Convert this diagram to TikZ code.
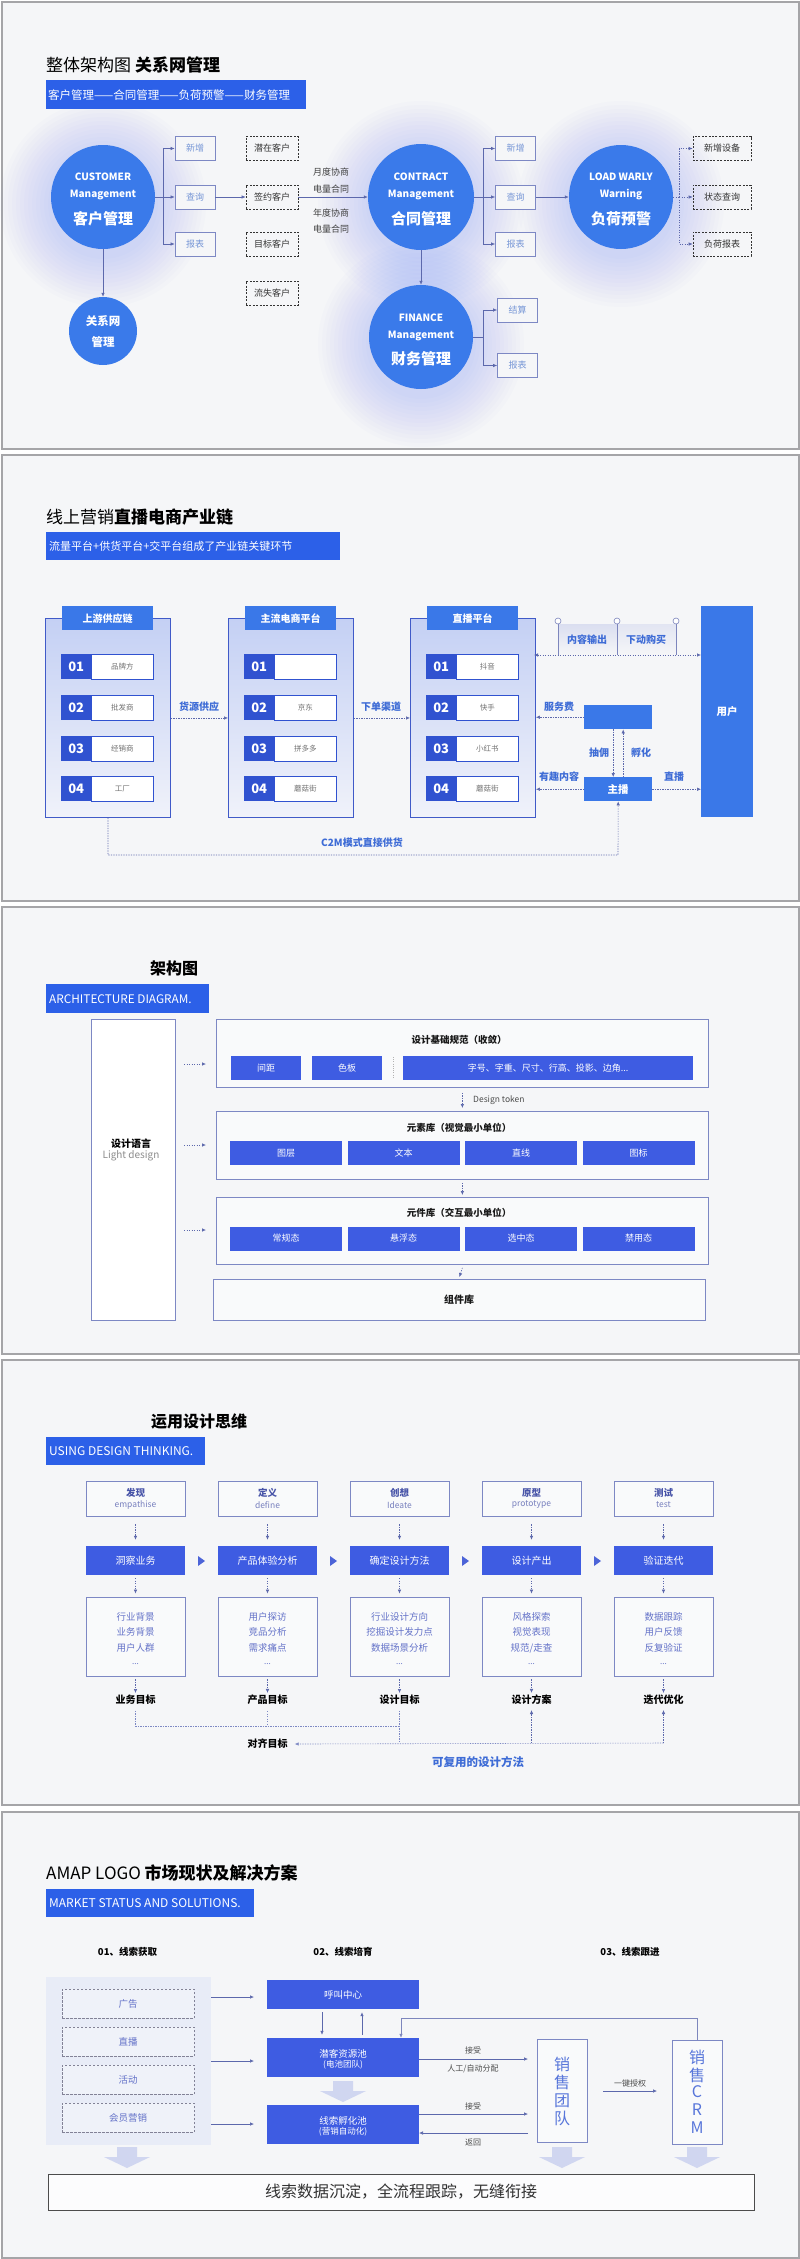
\documentclass[tikz,border=0pt]{standalone}
\usepackage{fontspec}
\setmainfont{Noto Sans CJK SC}
\usetikzlibrary{arrows.meta,calc}
\newcommand{\fsz}[1]{\fontsize{#1pt}{#1pt}\selectfont}
\definecolor{bg}{RGB}{245,246,248}
\definecolor{frame}{RGB}{165,165,168}
\definecolor{cblue}{RGB}{58,122,234}
\definecolor{banblue}{RGB}{44,96,232}
\definecolor{hblue}{RGB}{58,120,232}
\definecolor{nblue}{RGB}{48,82,208}
\definecolor{rblue}{RGB}{62,92,226}
\definecolor{lineb}{RGB}{92,104,172}
\definecolor{boxline}{RGB}{125,136,196}
\definecolor{softtxt}{RGB}{118,150,214}
\definecolor{lblblue}{RGB}{62,108,214}
\definecolor{glowc}{RGB}{95,125,245}
\definecolor{colTop}{RGB}{196,208,244}
\definecolor{colBot}{RGB}{240,242,250}
\definecolor{colLine}{RGB}{64,90,200}
\definecolor{ttlpurple}{RGB}{72,84,168}
\definecolor{subpurple}{RGB}{120,128,190}
\definecolor{contxt}{RGB}{100,114,200}
\definecolor{fatc}{RGB}{208,214,240}
\definecolor{srcbg}{RGB}{232,236,247}
\definecolor{dashgray}{RGB}{130,130,150}
\definecolor{salestxt}{RGB}{88,118,218}
\definecolor{pinA}{RGB}{218,222,240}
\definecolor{trib}{RGB}{76,100,216}
\tikzset{
 tx/.style={inner sep=0pt},
 ttl/.style={tx, anchor=west, font=\fsz{17}, text=black},
 banner/.style={fill=banblue, anchor=north west, inner sep=0pt},
 bantxt/.style={tx, anchor=west, text=white, font=\fsz{10.5}},
 arr/.style={draw=lineb, line width=0.6pt, -{Latex[length=4pt,width=3.5pt]}},
 ln/.style={draw=lineb, line width=0.6pt},
 dotarr/.style={arr, dash pattern=on 1.2pt off 1.3pt},
 dotln/.style={ln, dash pattern=on 1.2pt off 1.3pt},
 crc/.style={circle, fill=cblue, inner sep=0pt},
 ctA/.style={tx, text=white, font=\bfseries\fsz{10}},
 ctB/.style={tx, text=white, font=\bfseries\fsz{15}},
 ctC/.style={tx, text=white, font=\bfseries\fsz{11.5}},
 sbox/.style={draw=boxline, fill=bg, line width=0.7pt, text=softtxt, font=\fsz{9}, inner sep=0pt, minimum width=40pt, minimum height=24pt},
 dbox/.style={draw=black!80, dash pattern=on 2pt off 1.4pt, line width=0.7pt, text=black!80, font=\fsz{9}, inner sep=0pt, minimum width=52pt, minimum height=24pt},
 small/.style={tx, font=\fsz{9}, text=black!75},
 numbox/.style={fill=nblue, text=white, font=\bfseries\fsz{13}, minimum width=30pt, minimum height=25pt, anchor=north west, inner sep=0pt},
 labbox/.style={fill=white, draw=nblue, line width=0.9pt, text=black!55, font=\fsz{7.5}, minimum width=62pt, minimum height=25pt, anchor=north west, inner sep=0pt},
 blbl/.style={tx, text=lblblue, font=\bfseries\fsz{10}},
 abox/.style={draw=boxline, fill=white!40!bg, line width=0.8pt, anchor=north west, minimum width=492pt, inner sep=0pt},
 btn/.style={fill=rblue, text=white, font=\fsz{9}, minimum height=24pt, inner sep=0pt},
 atitle/.style={tx, font=\bfseries\fsz{9.5}, text=black!90},
 pbox/.style={draw=boxline, fill=white!40!bg, line width=0.8pt, minimum width=99pt, inner sep=0pt},
 ctxt/.style={tx, font=\fsz{9.5}, text=contxt},
 goal/.style={tx, font=\bfseries\fsz{10}, text=black},
 ddash/.style={draw=dashgray, dash pattern=on 2.5pt off 1.5pt, line width=0.8pt, fill=white!30!srcbg, minimum width=132pt, minimum height=29pt, text=contxt, font=\fsz{9.5}, inner sep=0pt},
 tiny/.style={tx, font=\fsz{8}, text=black!70},
}
\newcommand{\pcol}[7]{%
  \node[draw=colLine, line width=0.9pt, top color=colTop, bottom color=colBot, minimum width=125pt, minimum height=199pt, anchor=north west, inner sep=0pt] (#1) at (#2,618) {};
  \node[fill=hblue, text=white, font=\bfseries\fsz{10}, minimum width=91pt, minimum height=24pt, anchor=north west, inner sep=0pt] (#1h) at (#2+17,606) {#3};
  \foreach \yy/\num/\lab [count=\i] in {654/01/#4,695/02/#5,736/03/#6,776/04/#7}{
    \node[numbox] (#1n\i) at (#2+16,\yy) {\num};
    \node[labbox] (#1l\i) at (#2+46,\yy) {\lab};
  }
}
\newcommand{\fatarrow}[2]{\fill[fatc] (#1-10,#2) -- (#1+10,#2) -- (#1+10,#2+10) -- (#1+23,#2+10) -- (#1,#2+21) -- (#1-23,#2+10) -- (#1-10,#2+10) -- cycle;}
\begin{document}
\begin{tikzpicture}[x=1pt,y=-1pt]
\useasboundingbox (0,0) rectangle (800,2259);
\fill[white] (0,0) rectangle (800,2259);
\foreach \a/\b in {0/450,453/902,905/1355,1358/1806,1810/2259}
  \draw[frame, line width=2pt, fill=bg] (1.5,\a+1.5) rectangle (798.5,\b-1.5);

%% ===== Panel 1 =====
\node[ttl] (t1) at (46,65) {整体架构图 \textbf{关系网管理}};
\node[banner, minimum width=260pt, minimum height=29pt] (b1) at (46,80) {};
\node[bantxt, font=\fsz{11.5}] (b1t) at ([xshift=2pt]b1.west) {客户管理——合同管理——负荷预警——财务管理};
\foreach \cx/\cy in {103/197,421/197,621/197,421/337}
  \foreach \r in {55,59,...,103}
    \fill[glowc, opacity=0.018] (\cx,\cy+7) circle[radius=\r pt];
\node[crc, minimum size=104pt] (cust) at (103,197) {};
\node[ctA] (cust1) at (103,177) {CUSTOMER};
\node[ctA] (cust2) at (103,195) {Management};
\node[ctB] (cust3) at (103,219) {客户管理};
\node[crc, minimum size=68pt] (rel) at (103,331) {};
\node[ctC] (rel1) at (103,321) {关系网};
\node[ctC] (rel2) at (103,342) {管理};
\draw[arr] (cust) -- (rel);

\node[sbox] (cnew) at (195,148.5) {新增};
\node[sbox] (cq) at (195,197) {查询};
\node[sbox] (crep) at (195,244) {报表};
\coordinate (cj) at (163,197);
\draw[ln] (cust.east) -- (cj);
\draw[arr] (cj) |- (cnew.west);
\draw[arr] (cj) -- (cq.west);
\draw[arr] (cj) |- (crep.west);

\node[dbox] (d1) at (272,148.5) {潜在客户};
\node[dbox] (d2) at (272,197) {签约客户};
\node[dbox] (d3) at (272,244) {目标客户};
\node[dbox] (d4) at (272,293) {流失客户};
\draw[arr] (cq) -- (d2);

\node[crc, minimum size=106pt] (contr) at (421,197) {};
\node[ctA] (contr1) at (421,177) {CONTRACT};
\node[ctA] (contr2) at (421,195) {Management};
\node[ctB] (contr3) at (421,219) {合同管理};
\draw[arr] (d2) -- (contr);
\node[small] (m1) at (331,172) {月度协商};
\node[small] (m2) at (331,189) {电量合同};
\node[small] (m3) at (331,213) {年度协商};
\node[small] (m4) at (331,229) {电量合同};

\node[sbox] (knew) at (515.5,148.5) {新增};
\node[sbox] (kq) at (515.5,197) {查询};
\node[sbox] (krep) at (515.5,244) {报表};
\coordinate (kj) at (483,197);
\draw[ln] (contr.east) -- (kj);
\draw[arr] (kj) |- (knew.west);
\draw[arr] (kj) -- (kq.west);
\draw[arr] (kj) |- (krep.west);

\node[crc, minimum size=104pt] (load) at (621,197) {};
\node[ctA] (load1) at (621,177) {LOAD WARLY};
\node[ctA] (load2) at (621,195) {Warning};
\node[ctB] (load3) at (621,219) {负荷预警};
\draw[arr] (kq) -- (load);
\node[dbox, minimum width=58pt] (l1) at (722,148.5) {新增设备};
\node[dbox, minimum width=58pt] (l2) at (722,197) {状态查询};
\node[dbox, minimum width=58pt] (l3) at (722,244) {负荷报表};
\coordinate (lj) at (679,197);
\draw[dotln] (load.east) -- (lj);
\draw[dotarr] (lj) |- (l1.west);
\draw[dotarr] (lj) -- (l2.west);
\draw[dotarr] (lj) |- (l3.west);

\node[crc, minimum size=104pt] (fin) at (421,337) {};
\node[ctA] (fin1) at (421,318) {FINANCE};
\node[ctA] (fin2) at (421,336) {Management};
\node[ctB] (fin3) at (421,359) {财务管理};
\draw[arr] (contr) -- (fin);
\node[sbox] (fset) at (517.5,310) {结算};
\node[sbox] (frep) at (517.5,365.5) {报表};
\coordinate (fj) at (483,337);
\draw[ln] (fin.east) -- (fj);
\draw[arr] (fj) |- (fset.west);
\draw[arr] (fj) |- (frep.west);

%% ===== Panel 2 =====
\node[ttl] (t2) at (46,517) {线上营销\textbf{直播电商产业链}};
\node[banner, minimum width=294pt, minimum height=28pt] (b2) at (46,532) {};
\node[bantxt, font=\fsz{11}] (b2t) at ([xshift=3pt]b2.west) {流量平台+供货平台+交平台组成了产业链关键环节};
\pcol{up}{45}{上游供应链}{品牌方}{批发商}{经销商}{工厂}
\pcol{mid}{228}{主流电商平台}{}{京东}{拼多多}{蘑菇街}
\pcol{live}{410}{直播平台}{抖音}{快手}{小红书}{蘑菇街}
\draw[dotarr] (up) -- (mid);
\node[blbl] (g1) at (199,707) {货源供应};
\draw[dotarr] (mid) -- (live);
\node[blbl] (g2) at (381,707) {下单渠道};

\node[fill=hblue, text=white, font=\bfseries\fsz{10.5}, minimum width=52pt, minimum height=211pt, anchor=north west, inner sep=0pt] (user) at (701,606) {用户};
\shade[top color=pinA, bottom color=bg] (558,624) rectangle (617,655);
\shade[top color=pinA!70!bg, bottom color=bg] (617,624) rectangle (676,655);
\foreach \px [count=\k] in {558,617,676}{
  \coordinate (pt\k) at (\px,655);
  \coordinate (pb\k) at (\px,624);
  \draw[ln, draw=lineb!80] (pt\k) -- (pb\k);
  \draw[draw=lineb!80, fill=white, line width=0.6pt] (\px,621) circle[radius=3pt];
}
\coordinate (tl) at (534,655);
\coordinate (tr) at (701,655);
\draw[dotln, {Latex[length=4pt,width=3.5pt]}-{Latex[length=4pt,width=3.5pt]}] (tl) -- (tr);
\node[blbl] (g3) at (587,640) {内容输出};
\node[blbl] (g4) at (646,640) {下动购买};

\node[fill=hblue, minimum width=68pt, minimum height=24pt, anchor=north west, inner sep=0pt] (fee) at (584,705) {};
\node[fill=hblue, text=white, font=\bfseries\fsz{10.5}, minimum width=68pt, minimum height=24pt, anchor=north west, inner sep=0pt] (host) at (584,777) {主播};
\draw[dotarr] (fee.west) -- (fee.west -| live.east);
\node[blbl] (g5) at (559,707) {服务费};
\draw[dotarr] (host.west) -- (host.west -| live.east);
\node[blbl] (g6) at (559,777) {有趣内容};
\draw[dotarr] (host.east) -- (host.east -| user.west);
\node[blbl] (g7) at (674,777) {直播};
\draw[dotarr] ([xshift=-5pt]fee.south) -- ([xshift=-5pt]host.north);
\draw[dotarr] ([xshift=5pt]host.north) -- ([xshift=5pt]fee.south);
\node[blbl] (g8) at (599,753) {抽佣};
\node[blbl] (g9) at (641,753) {孵化};
\coordinate (c2m) at (618,855);
\draw[dotarr] (up.south) |- (c2m) -- (host.south);
\node[blbl] (g10) at (362,843) {C2M模式直接供货};

%% ===== Panel 3 =====
\node[tx, font=\bfseries\fsz{16}] (t3) at (174,968) {架构图};
\node[banner, minimum width=163pt, minimum height=29pt] (b3) at (46,984) {};
\node[bantxt, font=\fsz{11.8}] (b3t) at ([xshift=3pt]b3.west) {ARCHITECTURE DIAGRAM.};
\node[draw=boxline, fill=white, line width=0.8pt, minimum width=84pt, minimum height=301pt, anchor=north west, inner sep=0pt] (lang) at (91,1019) {};
\node[tx, font=\bfseries\fsz{10}] (lang1) at (131,1144) {设计语言};
\node[tx, font=\fsz{10}, text=black!45] (lang2) at (131,1156) {Light design};
\foreach \yy [count=\k] in {1064,1145,1230}{
  \coordinate (sa\k) at (184,\yy);
  \coordinate (sb\k) at (206,\yy);
  \draw[dotarr] (sa\k) -- (sb\k);
}
\node[abox, minimum height=68pt] (bA) at (216,1019) {};
\node[atitle] (bAt) at (459,1040) {设计基础规范（收敛）};
\node[btn, minimum width=70pt] (a1) at (266,1068) {间距};
\node[btn, minimum width=70pt] (a2) at (347,1068) {色板};
\draw[draw=black!30, dash pattern=on 1pt off 1.2pt, line width=0.6pt] (393,1057) -- (393,1079);
\node[btn, minimum width=290pt] (a3) at (548,1068) {字号、字重、尺寸、行高、投影、边角...};
\node[abox, minimum height=68pt] (bB) at (216,1111) {};
\draw[dotarr] ([yshift=-5pt]bA.south) -- ([yshift=3pt]bB.north);
\node[tx, anchor=west, font=\fsz{8.5}, text=black!70] (dt) at (473,1100) {Design token};
\node[atitle] (bBt) at (459,1128) {元素库（视觉最小单位）};
\foreach \cx/\lab [count=\k] in {286/图层,403.5/文本,521/直线,638.5/图标}
  \node[btn, minimum width=112pt] (e\k) at (\cx,1153) {\lab};
\node[abox, minimum height=67pt] (bC) at (216,1197) {};
\draw[dotarr] ([yshift=-3pt]bB.south) -- ([yshift=2pt]bC.north);
\node[atitle] (bCt) at (459,1213) {元件库（交互最小单位）};
\foreach \cx/\lab [count=\k] in {286/常规态,403.5/悬浮态,521/选中态,638.5/禁用态}
  \node[btn, minimum width=112pt] (u\k) at (\cx,1238.5) {\lab};
\node[abox, minimum height=41pt] (bD) at (213,1279) {};
\draw[dotarr] ([yshift=-3pt]bC.south) -- ([yshift=2pt]bD.north);
\node[atitle, font=\bfseries\fsz{10}] (bDt) at (459,1300) {组件库};

%% ===== Panel 4 =====
\node[tx, font=\bfseries\fsz{16}] (t4) at (199,1421) {运用设计思维};
\node[banner, minimum width=159pt, minimum height=28pt] (b4) at (46,1437) {};
\node[bantxt, font=\fsz{12}] (b4t) at ([xshift=3pt]b4.west) {USING DESIGN THINKING.};
\foreach \i/\cx/\ta/\tb/\bl/\la/\lb/\lc/\g in {
 1/135.5/发现/empathise/洞察业务/行业背景/业务背景/用户人群/业务目标,
 2/267.5/定义/define/产品体验分析/用户探访/竞品分析/需求痛点/产品目标,
 3/399.5/创想/Ideate/确定设计方法/行业设计方向/挖掘设计发力点/数据场景分析/设计目标,
 4/531.5/原型/prototype/设计产出/风格探索/视觉表现/{规范/走查}/设计方案,
 5/663.5/测试/test/验证迭代/数据跟踪/用户反馈/反复验证/迭代优化}{
  \node[pbox, minimum height=35pt] (top\i) at (\cx,1498.5) {};
  \node[tx, font=\bfseries\fsz{9.5}, text=ttlpurple] (topa\i) at (\cx,1493) {\ta};
  \node[tx, font=\fsz{8.5}, text=subpurple] (topb\i) at (\cx,1505) {\tb};
  \node[btn, minimum width=99pt, minimum height=29pt, font=\fsz{10}] (blu\i) at (\cx,1560.5) {\bl};
  \node[pbox, minimum height=79pt] (con\i) at (\cx,1636.5) {};
  \node[ctxt] (cona\i) at (\cx,1617) {\la};
  \node[ctxt] (conb\i) at (\cx,1632) {\lb};
  \node[ctxt] (conc\i) at (\cx,1648) {\lc};
  \node[ctxt, font=\fsz{8}] (cond\i) at (\cx,1664) {...};
  \node[goal] (goal\i) at (\cx,1700) {\g};
  \draw[dotarr] ([yshift=-8pt]top\i.south) -- ([yshift=6pt]blu\i.north);
  \draw[dotarr] ([yshift=-3pt]blu\i.south) -- ([yshift=3pt]con\i.north);
  \draw[dotarr] ([yshift=-3pt]con\i.south) -- ([yshift=2pt]goal\i.north);
}
\foreach \tx in {201,333,465,597}
  \fill[trib] (\tx-3,1556) -- (\tx+4,1561) -- (\tx-3,1566) -- cycle;
\coordinate (ja) at (399.5,1726);
\coordinate (jb) at (399.5,1743);
\coordinate (jc) at (663.5,1743);
\node[goal] (align) at (267.5,1744) {对齐目标};
\draw[dotln, draw=boxline] ([yshift=-6pt]goal1.south) |- (ja);
\draw[dotln, draw=boxline] ([yshift=-6pt]goal2.south) -- (goal2.south |- ja);
\draw[dotln, draw=boxline] ([yshift=-6pt]goal3.south) -- (jb);
\draw[dotarr, draw=boxline] (jc) -- ([xshift=7pt]align.east);
\draw[dotarr] (goal4.south |- jb) -- ([yshift=-5pt]goal4.south);
\draw[dotarr] (jc) -- ([yshift=-5pt]goal5.south);
\node[tx, font=\bfseries\fsz{11.5}, text=lblblue] (reuse) at (478,1762) {可复用的设计方法};

%% ===== Panel 5 =====
\node[ttl] (t5) at (46,1873) {AMAP LOGO \textbf{市场现状及解决方案}};
\node[banner, minimum width=208pt, minimum height=28pt] (b5) at (46,1889) {};
\node[bantxt, font=\fsz{12}] (b5t) at ([xshift=3pt]b5.west) {MARKET STATUS AND SOLUTIONS.};
\node[goal, font=\bfseries\fsz{9.5}] (s1) at (127.5,1952) {01、线索获取};
\node[goal, font=\bfseries\fsz{9.5}] (s2) at (343,1952) {02、线索培育};
\node[goal, font=\bfseries\fsz{9.5}] (s3) at (630,1952) {03、线索跟进};
\node[fill=srcbg, minimum width=165pt, minimum height=168pt, anchor=north west, inner sep=0pt] (src) at (46,1977) {};
\node[ddash] (q1) at (128,2003.5) {广告};
\node[ddash] (q2) at (128,2041.5) {直播};
\node[ddash] (q3) at (128,2079.5) {活动};
\node[ddash] (q4) at (128,2117.5) {会员营销};
\fatarrow{127}{2147}
\foreach \yy [count=\k] in {1997,2061,2124}{
  \coordinate (ra\k) at (211,\yy);
  \coordinate (rb\k) at (254,\yy);
  \draw[arr] (ra\k) -- (rb\k);
}
\node[btn, minimum width=152pt, minimum height=29pt, font=\fsz{9.5}] (call) at (343,1994.5) {呼叫中心};
\node[btn, minimum width=152pt, minimum height=39pt] (pool) at (343,2057.5) {};
\node[tx, text=white, font=\fsz{9.5}] (pool1) at (343,2054) {潜客资源池};
\node[tx, text=white, font=\fsz{8.5}] (pool2) at (343,2065) {(电池团队)};
\node[btn, minimum width=152pt, minimum height=39pt] (incub) at (343,2124.5) {};
\node[tx, text=white, font=\fsz{9.5}] (incub1) at (343,2121) {线索孵化池};
\node[tx, text=white, font=\fsz{8.5}] (incub2) at (343,2132) {(营销自动化)};
\draw[arr] ([xshift=-21pt,yshift=-3pt]call.south) -- ([xshift=-21pt,yshift=3pt]pool.north);
\draw[arr] ([xshift=19pt,yshift=3pt]pool.north) -- ([xshift=19pt,yshift=-3pt]call.south);
\fatarrow{343}{2081}

\node[draw=boxline, fill=white!40!bg, line width=0.8pt, minimum width=50pt, minimum height=103pt, inner sep=0pt] (sales) at (562,2090.5) {};
\foreach \ch/\yy [count=\k] in {销/2064,售/2082,团/2101,队/2118}
  \node[tx, font=\fsz{16}, text=salestxt] (st\k) at (562,\yy) {\ch};
\node[draw=boxline, fill=white!40!bg, line width=0.8pt, minimum width=50pt, minimum height=104pt, inner sep=0pt] (crm) at (697,2092) {};
\foreach \ch/\yy [count=\k] in {销/2057,售/2075,C/2092,R/2110,M/2128}
  \node[tx, font=\fsz{16}, text=salestxt] (ct\k) at (697,\yy) {\ch};
\fatarrow{562}{2147}
\fatarrow{697}{2147}

\coordinate (fb) at (401,2018);
\draw[arr, draw=lineb!80] (crm.north) |- (fb) -- (fb |- pool.north);
\coordinate (sx) at (528,2100);
\coordinate (pa) at (419,2059);
\coordinate (ia) at (419,2114);
\coordinate (ib) at (419,2133);
\draw[arr] (pa) -- (pa -| sx);
\node[tiny] (k1) at (473,2050) {接受};
\node[tiny] (k2) at (473,2069) {人工/自动分配};
\draw[arr] (ia) -- (ia -| sx);
\node[tiny] (k3) at (473,2106) {接受};
\draw[arr] (ib -| sx) -- (ib);
\node[tiny] (k4) at (473,2142) {返回};
\coordinate (ka) at (603,2091);
\coordinate (kb) at (657,2091);
\draw[arr] (ka) -- (kb);
\node[tiny] (k5) at (630,2083) {一键授权};

\node[draw=black!70, line width=1pt, fill=white!70!bg, minimum width=706pt, minimum height=36pt, inner sep=0pt, font=\fsz{16}, text=black!80] (bottom) at (401,2192) {线索数据沉淀，全流程跟踪，无缝衔接};
\end{tikzpicture}
\end{document}
